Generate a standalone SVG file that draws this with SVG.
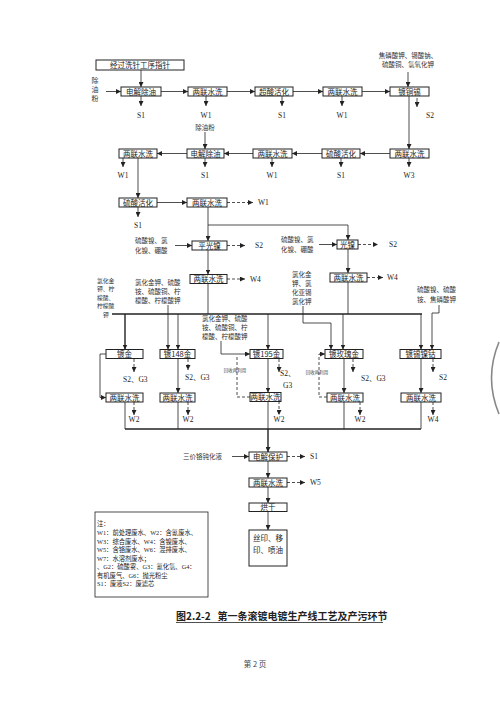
<svg xmlns="http://www.w3.org/2000/svg" width="500" height="707" viewBox="0 0 500 707">
<style>
.b{fill:#fff;stroke:#222;stroke-width:1}
.t{font-family:"Noto Sans CJK SC",sans-serif;font-size:7.5px;fill:#222;text-anchor:middle}
.s{font-family:"Noto Sans CJK SC",sans-serif;font-size:6.5px;fill:#333}
.l{font-family:"Liberation Serif",serif;font-size:7.5px;fill:#222;text-anchor:middle}
.ls{font-family:"Liberation Serif","Noto Sans CJK SC",serif;font-size:7.5px;fill:#222}
.c{fill:none;stroke:#222;stroke-width:0.8}
.k{fill:none;stroke:#222;stroke-width:1.4}
.d{fill:none;stroke:#222;stroke-width:0.8;stroke-dasharray:3,2}
.ah{marker-end:url(#a)}
.tiny{font-family:"Noto Sans CJK SC",sans-serif;font-size:4.5px;fill:#444;text-anchor:middle}
</style>
<defs>
<marker id="a" viewBox="0 0 6 6" refX="6" refY="3" markerWidth="5" markerHeight="5" orient="auto" markerUnits="userSpaceOnUse"><path d="M0,0L6,3L0,6z" fill="#222"/></marker>
</defs>
<rect width="500" height="707" fill="#fff"/>

<g id="connectors">
<line class="c ah" x1="141" y1="70" x2="141" y2="87"/>
<line class="c ah" x1="106" y1="91.5" x2="121" y2="91.5"/>
<line class="c ah" x1="161" y1="91.5" x2="188" y2="91.5"/>
<line class="c ah" x1="227" y1="91.5" x2="255" y2="91.5"/>
<line class="c ah" x1="293" y1="91.5" x2="323" y2="91.5"/>
<line class="c ah" x1="362" y1="91.5" x2="390" y2="91.5"/>
<line class="c ah" x1="408" y1="72" x2="408" y2="87"/>
<line class="c ah" x1="141" y1="96" x2="141" y2="106"/>
<line class="c ah" x1="206" y1="96" x2="206" y2="106"/>
<line class="c ah" x1="282" y1="96" x2="282" y2="106"/>
<line class="c ah" x1="342" y1="96" x2="342" y2="106"/>
<line class="c ah" x1="417" y1="98" x2="417" y2="107"/>
<line class="c ah" x1="409" y1="96" x2="409" y2="149"/>

<line class="c ah" x1="390" y1="153.5" x2="360" y2="153.5"/>
<line class="c ah" x1="322" y1="153.5" x2="292" y2="153.5"/>
<line class="c ah" x1="253" y1="153.5" x2="224" y2="153.5"/>
<line class="c ah" x1="187" y1="153.5" x2="157" y2="153.5"/>
<line class="c ah" x1="205" y1="132" x2="205" y2="149"/>
<line class="c ah" x1="123" y1="158" x2="123" y2="167"/>
<line class="c ah" x1="205" y1="158" x2="205" y2="167"/>
<line class="c ah" x1="272" y1="158" x2="272" y2="167"/>
<line class="c ah" x1="341" y1="158" x2="341" y2="167"/>
<line class="c ah" x1="409" y1="158" x2="409" y2="167"/>

<line class="c ah" x1="138" y1="158" x2="138" y2="198"/>
<line class="c ah" x1="157" y1="202.5" x2="187" y2="202.5"/>
<line class="d ah" x1="227" y1="202.5" x2="253" y2="202.5"/>
<line class="c ah" x1="138" y1="207" x2="138" y2="217"/>
<line class="c ah" x1="208" y1="207" x2="208" y2="241"/>
<polyline class="c ah" points="208,225 348,225 348,240"/>

<line class="c ah" x1="175" y1="245.5" x2="192" y2="245.5"/>
<line class="d ah" x1="227" y1="245.5" x2="245" y2="245.5"/>
<line class="c ah" x1="319" y1="244.5" x2="337" y2="244.5"/>
<line class="d ah" x1="358" y1="244.5" x2="378" y2="244.5"/>
<line class="c ah" x1="208" y1="250" x2="208" y2="274.5"/>
<line class="c ah" x1="348" y1="249" x2="348" y2="273"/>
<line class="d ah" x1="227" y1="279" x2="245" y2="279"/>
<line class="d ah" x1="367" y1="277.5" x2="383" y2="277.5"/>
<line class="c" x1="208" y1="283.5" x2="208" y2="314"/>
<line class="c" x1="348" y1="282" x2="348" y2="314"/>

<line class="k" x1="112" y1="314" x2="422" y2="314"/>
<line class="k ah" x1="125" y1="314" x2="125" y2="349.5"/>
<line class="c ah" x1="178" y1="314" x2="178" y2="349.5"/>
<line class="c ah" x1="168" y1="305" x2="168" y2="349.5"/>
<line class="c ah" x1="268" y1="314" x2="268" y2="349.5"/>
<polyline class="c ah" points="221,341 221,354 250,354"/>
<line class="c ah" x1="343" y1="314" x2="343" y2="349.5"/>
<polyline class="c ah" points="303,306 303,323 331,323 331,349.5"/>
<line class="c ah" x1="421" y1="314" x2="421" y2="349.5"/>
<polyline class="c ah" points="439,305 439,313 432,313 432,349.5"/>

<polyline class="c ah" points="106,354 100,354 100,397.5 106,397.5"/>
<line class="c ah" x1="178" y1="358.5" x2="178" y2="393"/>
<line class="c ah" x1="268" y1="358.5" x2="268" y2="392.5"/>
<line class="c ah" x1="344" y1="358.5" x2="344" y2="393"/>
<line class="c ah" x1="421" y1="358.5" x2="421" y2="393"/>
<polyline class="d" points="250,397 237,397 237,356"/>
<polyline class="d ah" points="327,397 319,397 319,354 325,354"/>

<line class="d ah" x1="134" y1="359" x2="134" y2="372"/>
<line class="d ah" x1="188" y1="359" x2="188" y2="370"/>
<line class="d ah" x1="279" y1="359" x2="279" y2="372"/>
<line class="d ah" x1="353" y1="359" x2="353" y2="372"/>
<line class="d ah" x1="433" y1="359" x2="433" y2="372"/>
<line class="d ah" x1="134" y1="402" x2="134" y2="415"/>
<line class="d ah" x1="188" y1="402" x2="188" y2="415"/>
<line class="d ah" x1="279" y1="401" x2="279" y2="415"/>
<line class="d ah" x1="360" y1="402" x2="360" y2="415"/>
<line class="d ah" x1="433" y1="402" x2="433" y2="415"/>

<line class="c" x1="125" y1="402" x2="125" y2="429"/>
<line class="c" x1="178" y1="402" x2="178" y2="429"/>
<line class="c" x1="268" y1="401" x2="268" y2="429"/>
<line class="c" x1="344" y1="402" x2="344" y2="429"/>
<line class="c" x1="421" y1="402" x2="421" y2="429"/>
<line class="k" x1="125" y1="429" x2="421" y2="429"/>
<line class="k ah" x1="268" y1="429" x2="268" y2="452"/>

<line class="c ah" x1="232" y1="456.5" x2="249" y2="456.5"/>
<line class="d ah" x1="287" y1="456.5" x2="305" y2="456.5"/>
<line class="c ah" x1="268" y1="461" x2="268" y2="478"/>
<line class="d ah" x1="287" y1="482.5" x2="305" y2="482.5"/>
<line class="c ah" x1="268" y1="487" x2="268" y2="503"/>
<line class="c ah" x1="268" y1="511.5" x2="268" y2="530"/>
</g>

<g id="n_top"><rect class="b" x="96" y="60" width="88" height="10"/><text class="t" x="140" y="68">经过洗针工序指针</text></g>
<g id="in1"><text class="s" x="95" y="83" text-anchor="middle" style="font-size:7px">除</text><text class="s" x="95" y="92" text-anchor="middle" style="font-size:7px">油</text><text class="s" x="95" y="101" text-anchor="middle" style="font-size:7px">粉</text></g>
<g id="r1a"><rect class="b" x="121" y="87" width="40" height="9"/><text class="t" x="141" y="94.5">电解除油</text></g>
<g id="r1b"><rect class="b" x="188" y="87" width="39" height="9"/><text class="t" x="207.5" y="94.5">两联水洗</text></g>
<g id="r1c"><rect class="b" x="255" y="87" width="38" height="9"/><text class="t" x="274" y="94.5">超酸活化</text></g>
<g id="r1d"><rect class="b" x="323" y="87" width="39" height="9"/><text class="t" x="342.5" y="94.5">两联水洗</text></g>
<g id="r1e"><rect class="b" x="390" y="87" width="39" height="9"/><text class="t" x="409.5" y="94.5">镀铜锡</text></g>
<g id="in_cu"><text class="s" x="408" y="58" text-anchor="middle">焦磷酸钾、锡酸钠、</text><text class="s" x="408" y="67" text-anchor="middle">硫酸铜、氢氧化钾</text></g>
<g id="o1"><text class="l" x="141" y="118">S1</text><text class="l" x="206" y="118">W1</text><text class="l" x="282" y="118">S1</text><text class="l" x="342" y="118">W1</text><text class="l" x="430" y="118">S2</text></g>

<g id="r2a"><rect class="b" x="119" y="149" width="38" height="9"/><text class="t" x="138" y="156.5">两联水洗</text></g>
<g id="r2b"><rect class="b" x="187" y="149" width="37" height="9"/><text class="t" x="205.5" y="156.5">电解除油</text></g>
<g id="r2c"><rect class="b" x="253" y="149" width="39" height="9"/><text class="t" x="272.5" y="156.5">两联水洗</text></g>
<g id="r2d"><rect class="b" x="322" y="149" width="38" height="9"/><text class="t" x="341" y="156.5">硫酸活化</text></g>
<g id="r2e"><rect class="b" x="390" y="149" width="39" height="9"/><text class="t" x="409.5" y="156.5">两联水洗</text></g>
<g id="in2"><text class="s" x="205" y="130" text-anchor="middle">除油粉</text></g>
<g id="o2"><text class="l" x="123" y="178">W1</text><text class="l" x="205" y="178">S1</text><text class="l" x="272" y="178">W1</text><text class="l" x="341" y="178">S1</text><text class="l" x="409" y="178">W3</text></g>

<g id="r3a"><rect class="b" x="119" y="198" width="38" height="9"/><text class="t" x="138" y="205.5">硫酸活化</text></g>
<g id="r3b"><rect class="b" x="187" y="198" width="40" height="9"/><text class="t" x="207" y="205.5">两联水洗</text></g>
<g id="o3"><text class="ls" x="258" y="205">W1</text><text class="l" x="138" y="228">S1</text></g>

<g id="ni1"><rect class="b" x="192" y="241" width="35" height="9"/><text class="t" x="209.5" y="248.5">平光镍</text></g>
<g id="in_ni1"><text class="s" x="135" y="243">硫酸镍、氯</text><text class="s" x="135" y="253">化镍、硼酸</text></g>
<g id="ni2"><rect class="b" x="337" y="240" width="21" height="9"/><text class="t" x="347.5" y="247.5">光镍</text></g>
<g id="in_ni2"><text class="s" x="281" y="242">硫酸镍、氯</text><text class="s" x="281" y="252">化镍、硼酸</text></g>
<g id="o4"><text class="ls" x="255" y="248">S2</text><text class="ls" x="389" y="247">S2</text></g>
<g id="w5a"><rect class="b" x="190" y="274.5" width="37" height="9"/><text class="t" x="208.5" y="282">两联水洗</text></g>
<g id="w5b"><rect class="b" x="330" y="273" width="37" height="9"/><text class="t" x="348.5" y="280.5">两联水洗</text></g>
<g id="o5"><text class="ls" x="250" y="282">W4</text><text class="ls" x="387" y="280">W4</text></g>

<g id="in_au" style="font-size:5.8px"><text class="s" x="97" y="282.5" style="font-size:5.8px">氯化金</text><text class="s" x="97" y="291" style="font-size:5.8px">钾、柠</text><text class="s" x="97" y="299.5" style="font-size:5.8px">檬酸、</text><text class="s" x="97" y="308" style="font-size:5.8px">柠檬酸</text><text class="s" x="106" y="316.5" text-anchor="middle" style="font-size:5.8px">钾</text></g>
<g id="in_148"><text class="s" x="135" y="285">氯化金钾、硫酸</text><text class="s" x="135" y="294">铵、硫酸铜、柠</text><text class="s" x="135" y="303">檬酸、柠檬酸钾</text></g>
<g id="in_195"><text class="s" x="202" y="321">氯化金钾、硫酸</text><text class="s" x="202" y="330">铵、硫酸铜、柠</text><text class="s" x="202" y="339">檬酸、柠檬酸钾</text></g>
<g id="in_rg"><text class="s" x="292" y="277">氯化金</text><text class="s" x="292" y="286">钾、氯</text><text class="s" x="292" y="295">化亚锡</text><text class="s" x="292" y="304">氯化钾</text></g>
<g id="in_sn"><text class="s" x="417" y="292">硫酸镍、硫酸</text><text class="s" x="417" y="302">铵、焦磷酸钾</text></g>

<g id="p1"><rect class="b" x="106" y="349.5" width="37" height="9"/><text class="t" x="124.5" y="357">镀金</text></g>
<g id="p2"><rect class="b" x="160" y="349.5" width="35" height="9"/><text class="t" x="177.5" y="357">镀148金</text></g>
<g id="p3"><rect class="b" x="250" y="349.5" width="33" height="9"/><text class="t" x="266.5" y="357">镀195金</text></g>
<g id="p4"><rect class="b" x="325" y="349.5" width="38" height="9"/><text class="t" x="344" y="357">镀玫瑰金</text></g>
<g id="p5"><rect class="b" x="400" y="349.5" width="41" height="9"/><text class="t" x="420.5" y="357">镀锡镍钴</text></g>
<g id="o6"><text class="ls" x="123" y="382">S2、G3</text><text class="ls" x="185" y="380">S2、G3</text><text class="ls" x="280" y="376">S2、</text><text class="ls" x="283" y="388">G3</text><text class="ls" x="361" y="381">S2、G3</text><text class="ls" x="439" y="380">S2</text></g>
<g id="rc1"><text class="tiny" x="235" y="372">回收再利用</text></g>
<g id="rc2"><text class="tiny" x="317" y="374">回收再利用</text></g>

<g id="q1"><rect class="b" x="106" y="393" width="37" height="9"/><text class="t" x="124.5" y="400.5">两联水洗</text></g>
<g id="q2"><rect class="b" x="160" y="393" width="35" height="9"/><text class="t" x="177.5" y="400.5">两联水洗</text></g>
<g id="q3"><rect class="b" x="250" y="392.5" width="31" height="9"/><text class="t" x="265.5" y="400">两联水洗</text></g>
<g id="q4"><rect class="b" x="327" y="393" width="36" height="9"/><text class="t" x="345" y="400.5">两联水洗</text></g>
<g id="q5"><rect class="b" x="401" y="393" width="40" height="9"/><text class="t" x="421" y="400.5">两联水洗</text></g>
<g id="o7"><text class="l" x="134" y="422">W2</text><text class="l" x="188" y="422">W2</text><text class="l" x="279" y="422">W2</text><text class="l" x="360" y="422">W2</text><text class="l" x="433" y="422">W4</text></g>

<g id="f1"><rect class="b" x="249" y="452" width="38" height="9"/><text class="t" x="268" y="459.5">电解保护</text></g>
<g id="in_cr"><text class="s" x="222" y="459" text-anchor="end">三价铬钝化液</text></g>
<g id="f2"><rect class="b" x="249" y="478" width="38" height="9"/><text class="t" x="268" y="485.5">两联水洗</text></g>
<g id="f3"><rect class="b" x="249" y="503" width="38" height="8.5"/><text class="t" x="268" y="510">烘干</text></g>
<g id="f4"><rect class="b" x="249" y="530" width="38" height="36"/><text class="t" x="268" y="541">丝印、移</text><text class="t" x="268" y="553">印、喷油</text></g>
<g id="o8"><text class="ls" x="310" y="459">S1</text><text class="ls" x="310" y="485">W5</text></g>

<g id="legend">
<rect x="95" y="512" width="113" height="85" fill="none" stroke="#222" stroke-width="0.8"/>
<g class="ls" style="font-size:6.3px">
<text x="97" y="526">注：</text>
<text x="97" y="535">W1：前处理废水、W2：含氰废水、</text>
<text x="97" y="543.5">W3：综合废水、W4：含镍废水、</text>
<text x="97" y="552">W5：含铬废水、W6：混排废水、</text>
<text x="97" y="560.5">W7：水溶剂废水；</text>
<text x="97" y="569">、G2：硫酸雾、G3：氰化氢、G4：</text>
<text x="97" y="577.5">有机废气、G6：抛光粉尘</text>
<text x="97" y="586">S1：废液S2：废滤芯</text>
</g>
</g>

<g id="caption">
<text x="176" y="620" xml:space="preserve" style="font-family:'Noto Sans CJK SC',sans-serif;font-size:10px;font-weight:bold;fill:#222">图2.2-2   第一条滚镀电镀生产线工艺及产污环节</text>
<line x1="176" y1="622.5" x2="383" y2="622.5" stroke="#222" stroke-width="0.8"/>
<text x="255" y="667" text-anchor="middle" xml:space="preserve" style="font-family:'Noto Sans CJK SC',sans-serif;font-size:7.5px;fill:#444">第 2 页</text>
</g>
<path d="M499,342 Q484,378 499,414" fill="none" stroke="#888" stroke-width="1.6"/>
</svg>
